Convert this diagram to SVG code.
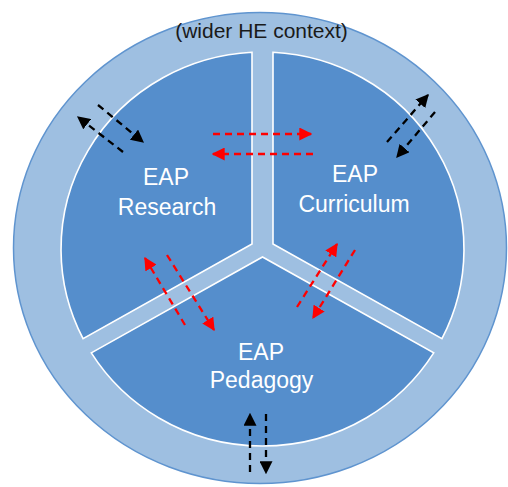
<svg xmlns="http://www.w3.org/2000/svg" width="508" height="487" viewBox="0 0 508 487">
<style>
.sector{fill:#558ECC;stroke:#FFFFFF;stroke-width:1.6;stroke-linejoin:miter}
.lbl{font-family:"Liberation Sans",Arial,sans-serif;font-size:23px;fill:#FFFFFF;text-anchor:middle}
.ctx{font-family:"Liberation Sans",Arial,sans-serif;font-size:21px;fill:#1A1A1A;text-anchor:middle}
.blk{fill:none;stroke:#000000;stroke-width:2.3;stroke-dasharray:7 5;marker-end:url(#ah-b)}
.red{fill:none;stroke:#FF0000;stroke-width:2.3;stroke-dasharray:7 5;marker-end:url(#ah-r)}
</style>
<defs>
<marker id="ah-b" viewBox="0 0 10 10" refX="9" refY="5" markerWidth="13" markerHeight="13" markerUnits="userSpaceOnUse" orient="auto"><path d="M0,0 L10,5 L0,10 z" fill="#000000"/></marker>
<marker id="ah-r" viewBox="0 0 10 10" refX="9" refY="5" markerWidth="13" markerHeight="13" markerUnits="userSpaceOnUse" orient="auto"><path d="M0,0 L10,5 L0,10 z" fill="#FF0000"/></marker>
</defs>
<rect width="508" height="487" fill="#FFFFFF"/>
<g id="context">
<ellipse cx="260" cy="248" rx="246.5" ry="235.5" fill="#9EBFE1" stroke="#5F94CF" stroke-width="1.5"/>
<text class="ctx" x="261.5" y="38">(wider HE context)</text>
</g>
<g id="research">
<path class="sector" d="M252,52.3 L252,244 L83.05,338.6 A201.5,197 0 0 1 252,52.3 Z"/>
<text class="lbl" x="166" y="185">EAP</text>
<text class="lbl" x="167" y="215">Research</text>
</g>
<g id="curriculum">
<path class="sector" d="M273,52.3 L273,244 L441.95,338.6 A201.5,197 0 0 0 273,52.3 Z"/>
<text class="lbl" x="355" y="182">EAP</text>
<text class="lbl" x="354" y="212">Curriculum</text>
</g>
<g id="pedagogy">
<path class="sector" d="M91.3,352.9 L262.5,257 L433.7,352.9 A201.5,197 0 0 1 91.3,352.9 Z"/>
<text class="lbl" x="261" y="360">EAP</text>
<text class="lbl" x="261.5" y="388">Pedagogy</text>
</g>
<g id="connectors">
<path class="blk" d="M123,152 L78,117"/>
<path class="blk" d="M98,105 L143,142"/>
<path class="blk" d="M387,142 L428,95"/>
<path class="blk" d="M435,112 L397,157"/>
<path class="red" d="M213,134 L311,134"/>
<path class="red" d="M313,154 L213,154"/>
<path class="red" d="M185,325 L145,258"/>
<path class="red" d="M167,255 L214,330"/>
<path class="red" d="M297,307 L337,244"/>
<path class="red" d="M355,250 L313,318"/>
<path class="blk" d="M250,472 L250,414"/>
<path class="blk" d="M266,414 L266,473"/>
</g>
</svg>
